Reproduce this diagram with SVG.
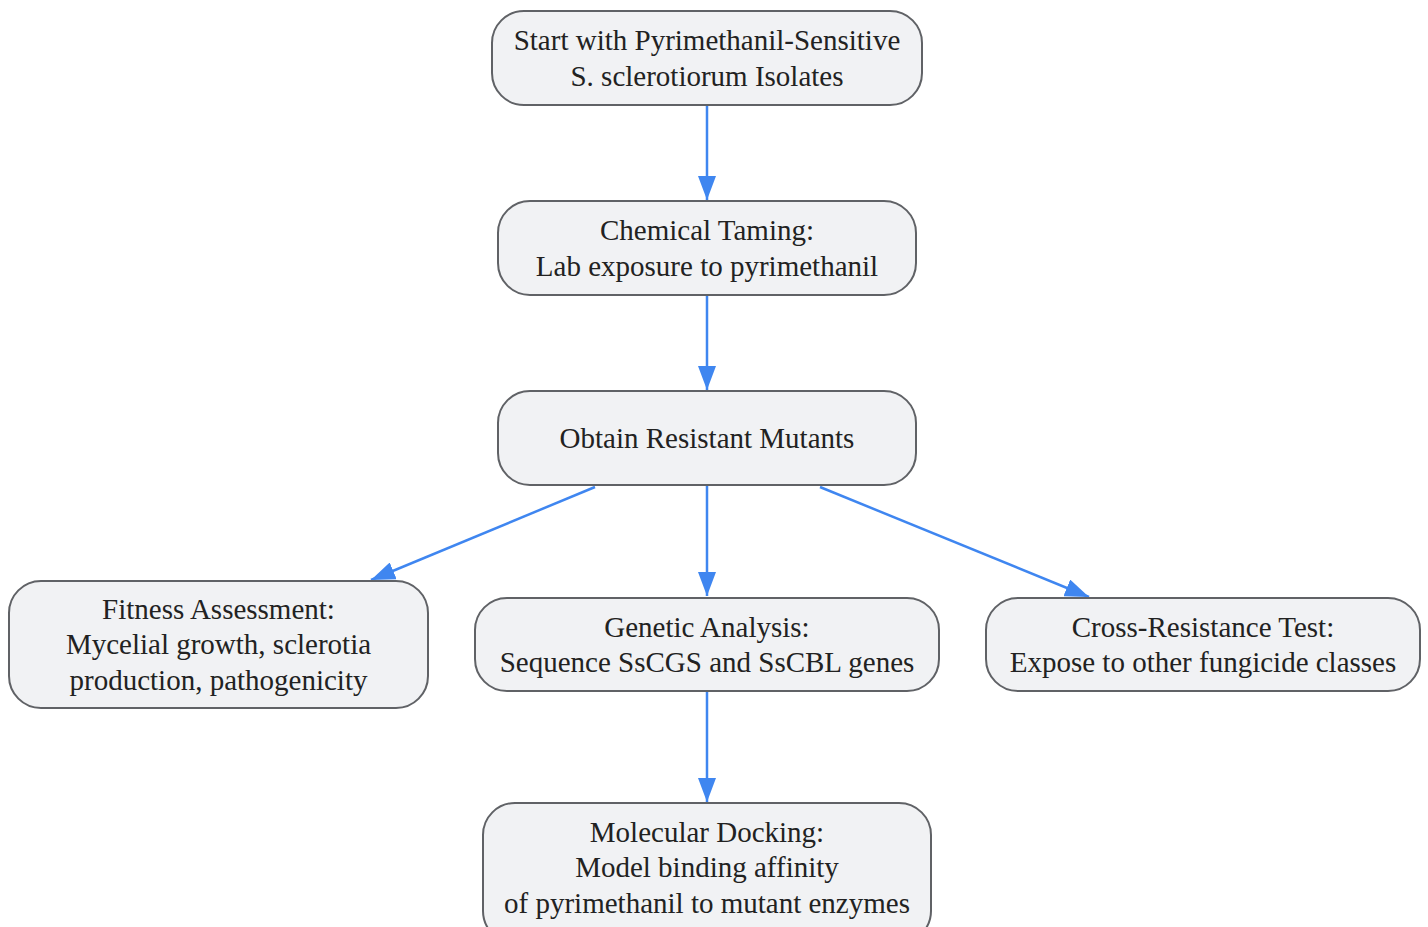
<svg xmlns="http://www.w3.org/2000/svg" width="1428" height="927" viewBox="0 0 1428 927">
<defs>
<style>
.node rect{fill:#f1f2f4;stroke:#606266;stroke-width:2}
.node text{font-family:"Liberation Serif","Times New Roman",serif;font-size:29px;fill:#222;text-anchor:middle;dominant-baseline:central}
.edges path{fill:none;stroke:#3f86f0;stroke-width:2.5}
</style>
<marker id="arr" viewBox="0 0 24 18" refX="24" refY="9" markerWidth="24" markerHeight="18" markerUnits="userSpaceOnUse" orient="auto">
<path d="M0,0 L24,9 L0,18 Z" fill="#3f86f0"/>
</marker>
</defs>
<rect width="1428" height="927" fill="#ffffff"/>
<g class="edges">
<path d="M707,106 L707,200" marker-end="url(#arr)"/>
<path d="M707,296 L707,390" marker-end="url(#arr)"/>
<path d="M707,486 L707,596" marker-end="url(#arr)"/>
<path d="M595,487 L371,580" marker-end="url(#arr)"/>
<path d="M820,487 L1089,597" marker-end="url(#arr)"/>
<path d="M707,692 L707,802" marker-end="url(#arr)"/>
</g>
<g id="start" class="node">
<rect x="492" y="11" width="430" height="94" rx="32" ry="32"/>
<text x="707" y="40">Start with Pyrimethanil-Sensitive</text>
<text x="707" y="76">S. sclerotiorum Isolates</text>
</g>
<g id="taming" class="node">
<rect x="498" y="201" width="418" height="94" rx="32" ry="32"/>
<text x="707" y="230">Chemical Taming:</text>
<text x="707" y="266">Lab exposure to pyrimethanil</text>
</g>
<g id="mutants" class="node">
<rect x="498" y="391" width="418" height="94" rx="32" ry="32"/>
<text x="707" y="438">Obtain Resistant Mutants</text>
</g>
<g id="fitness" class="node">
<rect x="9" y="581" width="419" height="127" rx="32" ry="32"/>
<text x="218.5" y="609">Fitness Assessment:</text>
<text x="218.5" y="644">Mycelial growth, sclerotia</text>
<text x="218.5" y="680">production, pathogenicity</text>
</g>
<g id="genetic" class="node">
<rect x="475" y="598" width="464" height="93" rx="32" ry="32"/>
<text x="707" y="627">Genetic Analysis:</text>
<text x="707" y="662">Sequence SsCGS and SsCBL genes</text>
</g>
<g id="cross" class="node">
<rect x="986" y="598" width="434" height="93" rx="32" ry="32"/>
<text x="1203" y="627">Cross-Resistance Test:</text>
<text x="1203" y="662">Expose to other fungicide classes</text>
</g>
<g id="docking" class="node">
<rect x="483" y="803" width="448" height="140" rx="32" ry="32"/>
<text x="707" y="832">Molecular Docking:</text>
<text x="707" y="867">Model binding affinity</text>
<text x="707" y="903">of pyrimethanil to mutant enzymes</text>
</g>
</svg>
